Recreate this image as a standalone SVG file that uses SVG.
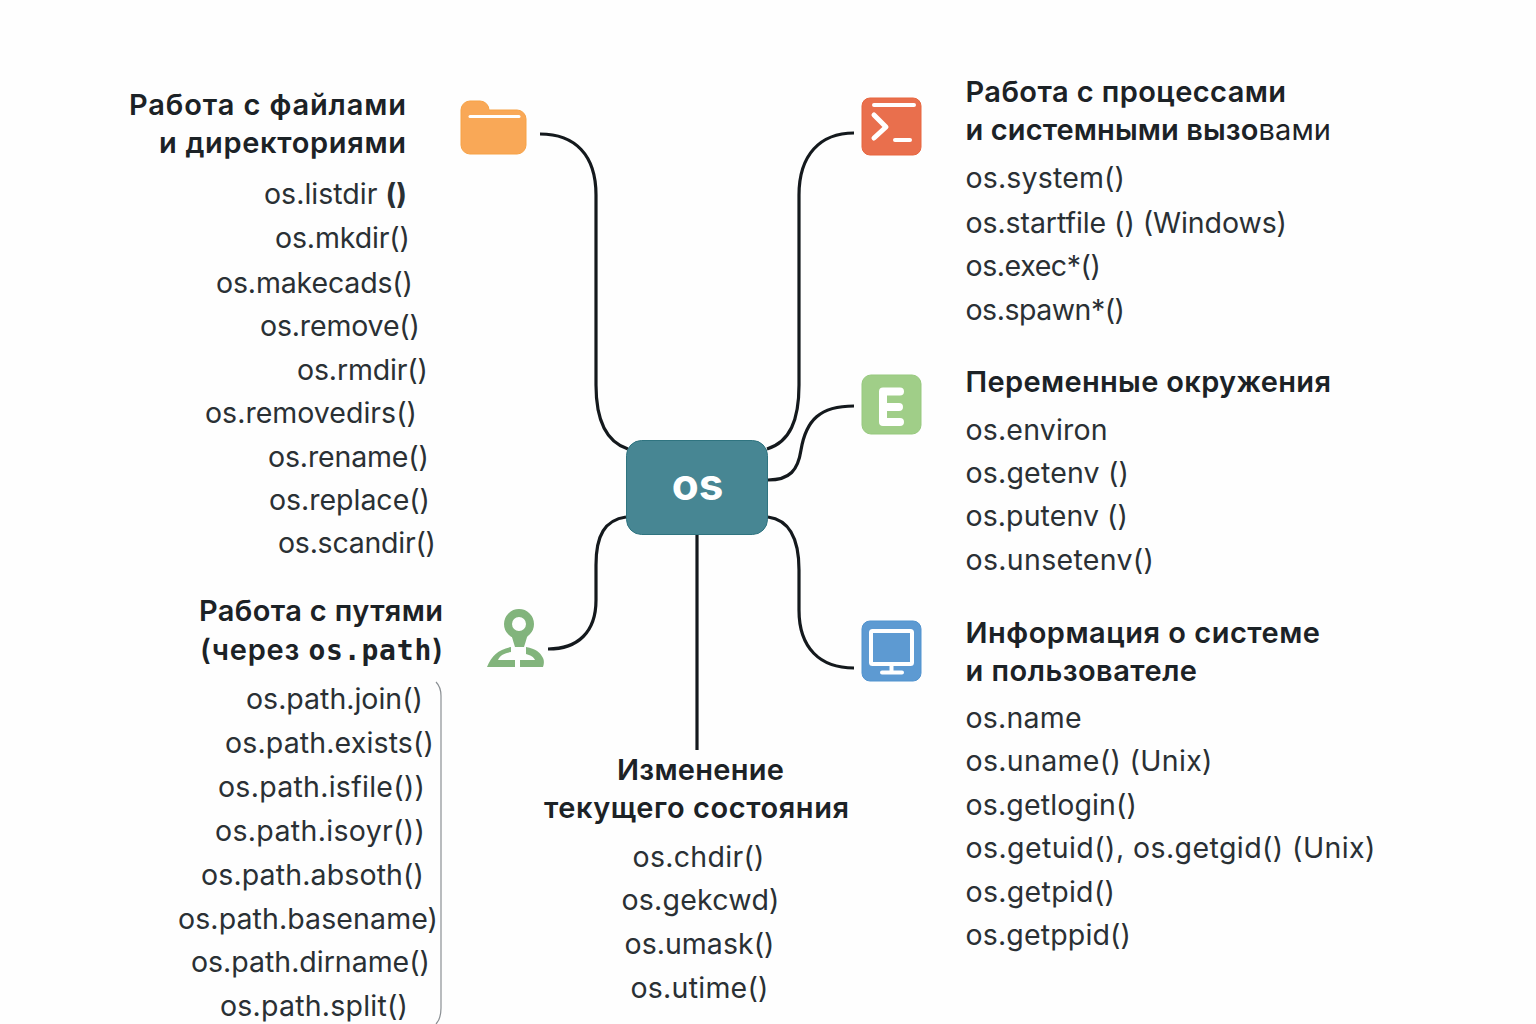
<svg xmlns="http://www.w3.org/2000/svg" width="1536" height="1024" viewBox="0 0 1536 1024">
<style>
text{font-family:"Inter","Noto Sans",sans-serif;fill:#22282c}
.h{font-size:29px;font-weight:600;fill:#1c2226}
.i{font-size:28.500px;font-weight:400;fill:#2a3034}
.e{text-anchor:end}.m{text-anchor:middle}
.c{fill:none;stroke:#14191d;stroke-width:3.2;stroke-linecap:butt}
</style>
<rect width="1536" height="1024" fill="#fefefe"/>
<g id="connectors">
<path class="c" d="M540 134C575 134 596 155 596 195V385C596 420 606 442 628 449"/>
<path class="c" d="M854 133C820 133 799 155 799 195V385C799 420 790 442 767 449"/>
<path class="c" d="M854 406C820 406 806 420 801 450C798 470 790 480 768 480"/>
<path class="c" d="M626 517C605 520 596 535 596 565V600C596 632 578 649 548 649"/>
<path class="c" d="M768 517C790 520 799 540 799 570V610C799 648 820 668 854 668"/>
<path class="c" d="M697 535V750"/>
</g>
<g id="os">
<rect x="626.500" y="440.500" width="141" height="94" rx="15" fill="#478693" stroke="#2f7480" stroke-width="1"/>
<text x="697.500" y="500" class="m" style="font-size:44px;font-weight:700;fill:#fff">os</text>
</g>
<g id="files">
<path d="M461 110a9 9 0 0 1 9-9h10a9 9 0 0 1 9 9h28a9 9 0 0 1 9 9v26a9 9 0 0 1-9 9h-47a9 9 0 0 1-9-9z" fill="#f9a857" stroke="#f7a246"/>
<path d="M470 116.500H519" stroke="#fff" stroke-width="3" stroke-linecap="round"/>
<text x="406" y="115" class="h e" textLength="277">Работа с файлами</text>
<text x="406" y="153" class="h e" textLength="247">и директориями</text>
<text x="407" y="204" class="i e" textLength="143">os.listdir <tspan font-weight="700">()</tspan></text>
<text x="410" y="248" class="i e" textLength="135">os.mkdir()</text>
<text x="413" y="293" class="i e" textLength="197">os.makecads()</text>
<text x="420" y="336" class="i e" textLength="160">os.remove()</text>
<text x="428" y="380" class="i e" textLength="131">os.rmdir()</text>
<text x="417" y="423" class="i e" textLength="212">os.removedirs()</text>
<text x="429" y="467" class="i e" textLength="161">os.rename()</text>
<text x="430" y="510" class="i e" textLength="161">os.replace()</text>
<text x="436" y="553" class="i e" textLength="158">os.scandir()</text>
</g>
<g id="paths">
<circle cx="519" cy="624" r="11" fill="none" stroke="#82b47c" stroke-width="8"/>
<path d="M511 634L515 647H524L528 634z" fill="#82b47c"/>
<path d="M511 647C498 650 492 655 487 667H515V660H498C500 655 505 653 511 652zM526 647C536 649 540 652 543 658C545 662 543 667 543 667H520V660H535C534 657 530 655 526 654z" fill="#82b47c"/>
<text x="443" y="621" class="h e" textLength="244">Работа с путями</text>
<text x="443" y="660" class="h e" textLength="243">(через <tspan style="font-family:'DejaVu Sans Mono',monospace;font-size:28px;font-weight:700">os.path</tspan>)</text>
<text x="423" y="709" class="i e" textLength="177">os.path.join()</text>
<text x="434" y="753" class="i e" textLength="209">os.path.exists()</text>
<text x="425" y="797" class="i e" textLength="207">os.path.isfile())</text>
<text x="425" y="841" class="i e" textLength="210">os.path.isoyr())</text>
<text x="424" y="885" class="i e" textLength="223">os.path.absoth()</text>
<text x="438" y="929" class="i e" textLength="260">os.path.basename)</text>
<text x="430" y="972" class="i e" textLength="239">os.path.dirname()</text>
<text x="408" y="1016" class="i e" textLength="188">os.path.split()</text>
<path d="M436 682C440 686 441 690 441 696V1008C441 1015 440 1020 436 1024" fill="none" stroke="#8a8f93" stroke-width="1.200"/>
</g>
<g id="cwd">
<text x="700.500" y="780" class="h m" textLength="167">Изменение</text>
<text x="696.500" y="818" class="h m" textLength="305">текущего состояния</text>
<text x="698.500" y="867" class="i m" textLength="132">os.chdir()</text>
<text x="700.500" y="910" class="i m" textLength="158">os.gekcwd)</text>
<text x="699.500" y="954" class="i m" textLength="150">os.umask()</text>
<text x="699.500" y="998" class="i m" textLength="138">os.utime()</text>
</g>
<g id="proc">
<rect x="862" y="98" width="59" height="57" rx="8" fill="#e96f4d" stroke="#e8663f"/>
<path d="M874 105H914M895 140H910" stroke="#fff" stroke-width="4" stroke-linecap="round" fill="none"/>
<path d="M874 115L886 127L874 138" stroke="#fff" stroke-width="5" stroke-linecap="round" stroke-linejoin="round" fill="none"/>
<text x="965.500" y="102" class="h" textLength="320.500">Работа с процессами</text>
<text x="965.500" y="140" class="h" textLength="365.500">и системными вызо<tspan font-weight="400">вами</tspan></text>
<text x="965.500" y="188" class="i" textLength="159.500">os.system()</text>
<text x="965.500" y="233" class="i" textLength="321.500">os.startfile () (Windows)</text>
<text x="965.500" y="276" class="i" textLength="135.500">os.exec*()</text>
<text x="965.500" y="320" class="i" textLength="159.500">os.spawn*()</text>
</g>
<g id="env">
<rect x="862" y="375" width="59" height="59" rx="9" fill="#a0ce88" stroke="#97c97e"/>
<path d="M883 391.500H900M883 407H899M883 422H900M883 391.500V422" stroke="#fff" stroke-width="8" stroke-linecap="round" fill="none"/>
<text x="965.500" y="392" class="h" textLength="365.500">Переменные окружения</text>
<text x="965.500" y="440" class="i" textLength="142">os.environ</text>
<text x="965.500" y="483" class="i" textLength="163.500">os.getenv ()</text>
<text x="965.500" y="526" class="i" textLength="162.500">os.putenv ()</text>
<text x="965.500" y="570" class="i" textLength="188.500">os.unsetenv()</text>
</g>
<g id="info">
<rect x="862" y="621" width="59" height="60" rx="8" fill="#5d9ad2" stroke="#5193cf"/>
<rect x="871" y="631" width="41" height="33" rx="1.500" fill="#5d9ad2" stroke="#fff" stroke-width="4"/>
<path d="M891.500 664V672M882 672.500H902" stroke="#fff" stroke-width="4" stroke-linecap="round" fill="none"/>
<text x="965.500" y="643" class="h" textLength="354.500">Информация о системе</text>
<text x="965.500" y="681" class="h" textLength="231.500">и пользователе</text>
<text x="965.500" y="728" class="i" textLength="116">os.name</text>
<text x="965.500" y="771" class="i" textLength="247">os.uname() (Unix)</text>
<text x="965.500" y="815" class="i" textLength="171.500">os.getlogin()</text>
<text x="965.500" y="858" class="i" textLength="410">os.getuid(), os.getgid() (Unix)</text>
<text x="965.500" y="902" class="i" textLength="149.500">os.getpid()</text>
<text x="965.500" y="945" class="i" textLength="165.500">os.getppid()</text>
</g>
</svg>
